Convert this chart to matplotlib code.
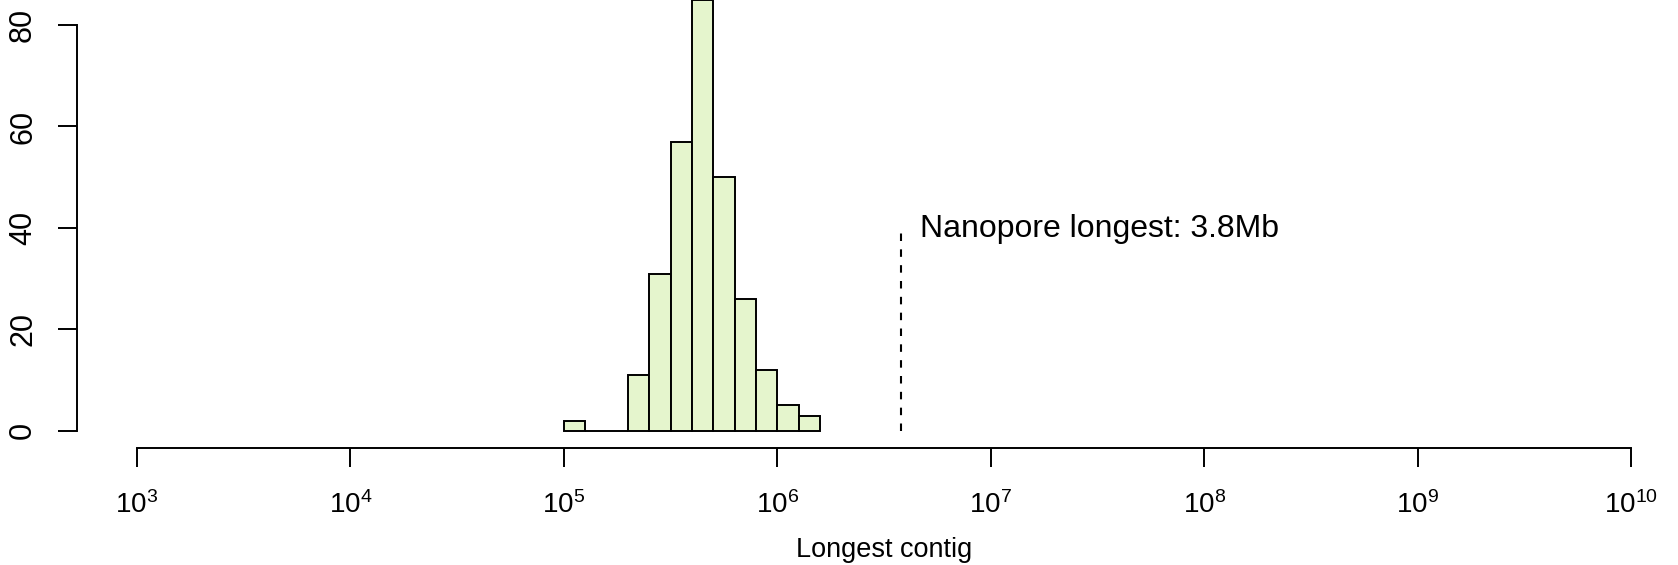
import numpy as np
import matplotlib
matplotlib.use("Agg")
import matplotlib.pyplot as plt

plt.rcParams['font.family'] = ['Liberation Sans', 'DejaVu Sans']
plt.rcParams['mathtext.fontset'] = 'custom'
plt.rcParams['mathtext.rm'] = 'Liberation Sans'
plt.rcParams['mathtext.it'] = 'Liberation Sans'

# Histogram of log10(longest contig) with 0.1-decade bins
bin_edges_log10 = [5.0, 5.1, 5.2, 5.3, 5.4, 5.5, 5.6, 5.7, 5.8, 5.9, 6.0, 6.1, 6.2]
counts = [2, 0, 0, 11, 31, 57, 85, 50, 26, 12, 5, 3]
x_tick_exponents = [3, 4, 5, 6, 7, 8, 9, 10]
y_ticks = [0, 20, 40, 60, 80]
nanopore_longest = 3.8e6
nanopore_label = "Nanopore longest: 3.8Mb"
x_label = "Longest contig"

W, H = 1678, 565
fig = plt.figure(figsize=(W / 100, H / 100), dpi=100)

# plot region in pixels (R style, 4% padding)
left_px, right_px = 77, 1691
bottom_px, top_px = 448, -17.6
ax = fig.add_axes([left_px / W, (H - bottom_px) / H,
                   (right_px - left_px) / W, (bottom_px - top_px) / H])
ax.patch.set_alpha(0)

edges = 10 ** np.array(bin_edges_log10)
ax.bar(edges[:-1], counts, width=np.diff(edges), align='edge',
       color='#E5F5CD', edgecolor='black', linewidth=1.4, clip_on=False)

ax.set_xscale('log')
ax.set_xlim(10 ** 2.72, 10 ** 10.28)
ax.set_ylim(-3.4, 88.4)

ax.vlines(nanopore_longest, 0, 40, colors='black', linestyles=(0, (3.6, 4.0)), linewidth=1.5)
ax.text(nanopore_longest * 10 ** 0.09, 39.8, nanopore_label, fontsize=23,
        ha='left', va='center')

for s in ['top', 'right']:
    ax.spines[s].set_visible(False)
ax.spines['left'].set_bounds(0, 80)
ax.spines['bottom'].set_bounds(10 ** 3, 10 ** 10)
for s in ['left', 'bottom']:
    ax.spines[s].set_linewidth(1.4)

xt = [10.0 ** e for e in x_tick_exponents]
ax.set_xticks(xt)
ax.set_xticklabels([r'$\mathregular{10^{%d}}$' % e for e in x_tick_exponents], fontsize=20)
ax.xaxis.set_minor_locator(matplotlib.ticker.NullLocator())
ax.set_yticks(y_ticks)
ax.set_yticklabels([str(v) for v in y_ticks], fontsize=22, rotation=90, va='center')
ax.tick_params(axis='both', length=14, width=1.4, direction='out')
ax.tick_params(axis='x', pad=17)
ax.tick_params(axis='y', pad=14)
ax.set_xlabel(x_label, fontsize=19.5, labelpad=13)

fig.savefig('out.png', dpi=100)
